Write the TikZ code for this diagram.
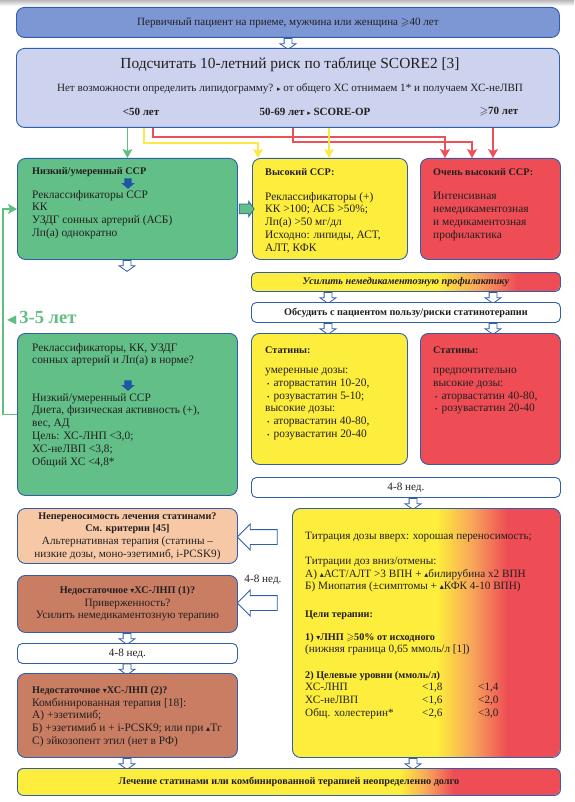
\documentclass[tikz,border=0pt]{standalone}
\usepackage{fontspec}
\setmainfont{Liberation Serif}
\newfontfamily\symf{DejaVu Sans}
\usepackage{amssymb}
\usepackage{tikz}
\usetikzlibrary{arrows.meta}
\usetikzlibrary{positioning}
\usetikzlibrary{shapes.arrows}
\usetikzlibrary{calc}
\usepackage{xcolor}

\definecolor{bordblue}{RGB}{47,94,170}
\definecolor{topblue}{RGB}{125,150,212}
\definecolor{lavblue}{RGB}{205,211,238}
\definecolor{grnbox}{RGB}{98,191,135}
\definecolor{yelbox}{RGB}{253,237,60}
\definecolor{redbox}{RGB}{238,77,85}
\definecolor{orgbox}{RGB}{247,165,90}
\definecolor{peachbox}{RGB}{246,200,166}
\definecolor{brownbox}{RGB}{201,125,99}
\definecolor{darkarr}{RGB}{30,85,165}
\definecolor{grnline}{RGB}{96,190,128}
\definecolor{yelline}{RGB}{250,232,70}
\definecolor{redline}{RGB}{238,80,88}
\definecolor{inktext}{RGB}{35,31,32}

\newcommand{\smallf}{\fontsize{11.1}{12.5}\selectfont}
\newcommand{\headf}{\fontsize{10.2}{12.8}\selectfont\bfseries}
\newcommand{\bodyf}{\fontsize{11.4}{12.8}\selectfont}
\newcommand{\bodys}{\fontsize{11.2}{12.7}\selectfont}
\newcommand{\trrt}{{\symf\fontsize{7}{7}\selectfont ▸}}
\newcommand{\trdn}{{\symf\fontsize{8}{8}\selectfont ▾}}
\newcommand{\trup}{{\symf\fontsize{8}{8}\selectfont ▴}}
\newcommand{\bul}{\hspace*{2pt}{\fontsize{7}{7}\selectfont•}\hspace{4pt}}
% yellow-orange-red background: x1,y1,x2,y2, end of yellow, orange, start of red, corner
\newcommand{\ryfill}[8]{%
	\begin{scope}
		\clip[rounded corners=#8] (#1,#2) rectangle (#3,#4);
		\fill[yelbox] (#1,#2) rectangle (#5+0.4,#4);
		\shade[left color=yelbox, right color=orgbox] (#5,#2) rectangle (#6+0.4,#4);
		\shade[left color=orgbox, right color=redbox] (#6,#2) rectangle (#7+0.4,#4);
		\fill[redbox] (#7,#2) rectangle (#3,#4);
	\end{scope}}

\begin{document}
\begin{tikzpicture}[x=1pt,y=-1pt,
		box/.style={draw=bordblue, line width=0.9pt, rounded corners=8pt, inner sep=0pt,
			anchor=north west, text=inktext, align=center, font=\bodyf},
		txt/.style={text=inktext, inner sep=0pt, anchor=north west, align=left, font=\bodyf,
			execute at begin node=\strut},
		hollow/.style={single arrow, draw=bordblue, fill=white, line width=0.8pt, inner sep=3.5pt,
			single arrow head extend=4pt, single arrow tip angle=110, minimum height=11pt,
			shape border rotate=270},
		hollowleft/.style={hollow, shape border rotate=180, inner sep=7pt,
			single arrow head extend=5.5pt, single arrow tip angle=90, minimum height=40pt},
		darkdown/.style={single arrow, fill=darkarr, inner sep=3.5pt, single arrow head extend=3pt,
			single arrow tip angle=100, minimum height=10pt, shape border rotate=270},
		grnarrow/.style={single arrow, fill=grnbox, draw=bordblue, line width=0.7pt, inner sep=4.5pt,
			single arrow head extend=3pt, single arrow tip angle=110, minimum height=15pt},
		tip/.style={-{Stealth[length=9pt,width=10pt,inset=2pt]}},
		gline/.style={tip, draw=grnline, line width=1.2pt},
		yline/.style={tip, draw=yelline, line width=1.2pt},
		rline/.style={tip, draw=redline, line width=1.2pt}]
	\useasboundingbox (0,0) rectangle (574,802);
	\shade[top color=gray!55, bottom color=white] (0,0) rectangle (574,6);

	\node[box, fill=topblue, minimum width=543pt, minimum height=30pt, font=\smallf] (first) at (16,7)
		{Первичный пациент на приеме, мужчина или женщина $\geqslant$40 лет};
	\node[hollow] (h1) at (288,42.5) {};
	\node[box, fill=lavblue, minimum width=543pt, minimum height=79pt] (score) at (16,48) {};
	\node[text=inktext, font=\fontsize{15.4}{17}\selectfont] (scoretitle) at (290,65)
		{Подсчитать 10-летний риск по таблице SCORE2 [3]};
	\node[text=inktext, font=\smallf] (scorenote) at (290,89)
		{Нет возможности определить липидограмму? \trrt{} от общего ХС отнимаем 1* и получаем ХС-неЛВП};
	\node[text=inktext, font=\fontsize{11}{12}\selectfont\bfseries] (age1) at (141,112) {<50 лет};
	\node[text=inktext, font=\fontsize{11}{12}\selectfont\bfseries] (age2) at (315,112) {50-69 лет \trrt{} SCORE-OP};
	\node[text=inktext, font=\fontsize{11}{12}\selectfont\bfseries] (age3) at (499,112) {$\geqslant$70 лет};

	% risk groups
	\node[box, fill=grnbox, minimum width=220pt, minimum height=101pt] (low) at (17,158) {};
	\node[box, fill=yelbox, minimum width=155pt, minimum height=101pt] (high) at (252,158) {};
	\node[box, fill=redbox, minimum width=140pt, minimum height=101pt] (vhigh) at (420,158) {};

	\draw[gline] (score.south -| low.north) -- (low.north);
	\draw[yline] ([xshift=128pt]score.south west) |- ([xshift=6pt,yshift=15pt]high.north west) -- ([xshift=6pt]high.north west);
	\draw[rline] ([xshift=137pt]score.south west) |- ([xshift=25pt,yshift=21pt]vhigh.north west) -- ([xshift=25pt]vhigh.north west);
	\draw[rline] ([xshift=277pt]score.south west) |- ([xshift=52pt,yshift=16pt]vhigh.north west) -- ([xshift=52pt]vhigh.north west);
	\draw[yline] ([xshift=313pt]score.south west) -- ([xshift=77pt]high.north west);
	\draw[rline] ([xshift=477pt]score.south west) -- ([xshift=73pt]vhigh.north west);

	\node[txt, font=\headf] (lowhead) at (32,165) {Низкий/умеренный ССР};
	\node[darkdown] (lowdown) at (128,182) {};
	\node[txt] (lowtext) at (32,190) {Реклассификаторы ССР\\КК\\УЗДГ сонных артерий (АСБ)\\Лп(а) однократно};
	\node[txt, font=\headf] (highhead) at (265,166) {Высокий ССР:};
	\node[txt] (hightext) at (265,192) {Реклассификаторы (+)\\КК >100; АСБ >50\%;\\Лп(а) >50 мг/дл\\Исходно: липиды, АСТ,\\АЛТ, КФК};
	\node[txt, font=\headf] (vhighhead) at (433,166) {Очень высокий ССР:};
	\node[txt] (vhightext) at (433,192) {Интенсивная\\немедикаментозная\\и медикаментозная\\профилактика};
	\node[grnarrow] (lowhigh) at ($(low.east)!0.5!(high.west)$) {};
	\node[hollow] (h2) at (127,264.5) {};

	% statins
	\ryfill{251}{272}{560}{291}{437}{478}{517}{5pt}
	\node[box, rounded corners=5pt, minimum width=309pt, minimum height=19pt, font=\headf\itshape] (boost) at (251,272)
		{Усилить немедикаментозную профилактику};
	\node[hollow] (h3) at (328,296.5) {};
	\node[hollow] (h4) at (493,296.5) {};
	\node[box, fill=white, rounded corners=5pt, minimum width=309pt, minimum height=20pt, font=\headf] (discuss) at (251,302)
		{Обсудить с пациентом пользу/риски статинотерапии};
	\node[hollow] (h5) at (328,327.5) {};
	\node[hollow] (h6) at (493,327.5) {};
	\node[box, fill=yelbox, minimum width=156pt, minimum height=131pt] (statmod) at (251,333) {};
	\node[box, fill=redbox, minimum width=140pt, minimum height=131pt] (stathigh) at (420,333) {};
	\node[txt, font=\headf] (statmodhead) at (265,344) {Статины:};
	\node[txt] (statmodtext) at (265,368) {умеренные дозы:\\\bul аторвастатин 10-20,\\\bul розувастатин 5-10;\\высокие дозы:\\\bul аторвастатин 40-80,\\\bul розувастатин 20-40};
	\node[txt, font=\headf] (stathighhead) at (433,344) {Статины:};
	\node[txt] (stathightext) at (433,368) {предпочтительно\\высокие дозы:\\\bul аторвастатин 40-80,\\\bul розувастатин 20-40};

	\node[text=grnline, font=\fontsize{18.5}{18}\selectfont\bfseries, inner sep=0pt, anchor=west] (period) at (7,318)
		{{\symf\fontsize{12}{12}\selectfont ◀}\hspace{3pt}3-5 лет};
	\node[box, fill=grnbox, minimum width=220pt, minimum height=162pt] (norm) at (17,333) {};
	\node[txt] (normtext) at (32,343) {Реклассификаторы, КК, УЗДГ\\сонных артерий и Лп(а) в норме?};
	\node[darkdown] (normdown) at (128,384) {};
	\node[txt] (normgoal) at (32,393) {Низкий/умеренный ССР\\Диета, физическая активность (+),\\вес, АД\\Цель: ХС-ЛНП <3,0;\\ХС-неЛВП <3,8;\\Общий ХС <4,8*};
	\draw[gline] (norm.west) -- ++(-14,0) |- (low.west);

	% titration
	\node[box, fill=white, rounded corners=5pt, minimum width=309pt, minimum height=20pt, font=\bodys] (wait1) at (251,477) {4-8 нед.};
	\node[hollow] (h7) at (413,502.5) {};
	\ryfill{292}{508}{560}{757}{437}{472}{507}{8pt}
	\node[box, minimum width=268pt, minimum height=249pt] (titr) at (292,508) {};
	\node[txt, font=\bodys] (titrup) at (305,530) {Титрация дозы вверх: хорошая переносимость;};
	\node[txt, font=\bodys] (titrdown) at (305,557) {Титрации доз вниз/отмены:\\А) \trup АСТ/АЛТ >3 ВПН + \trup билирубина х2 ВПН\\Б) Миопатия (±симптомы + \trup КФК 4-10 ВПН)};
	\node[txt, font=\headf] (goalhead) at (305,608) {Цели терапии:};
	\node[txt, font=\bodys] (goalone) at (305,633) {{\headf 1) \trdn ЛНП $\geqslant$50\% от исходного}\\(нижняя граница 0,65 ммоль/л [1])};
	\node[txt, font=\bodys] (goaltwo) at (305,671) {{\headf 2) Целевые уровни (ммоль/л)}\\
		\makebox[117pt][l]{ХС-ЛНП}\makebox[56pt][l]{<1,8}<1,4\\
		\makebox[117pt][l]{ХС-неЛВП}\makebox[56pt][l]{<1,6}<2,0\\
		\makebox[117pt][l]{Общ. холестерин*}\makebox[56pt][l]{<2,6}<3,0};

	\node[box, fill=peachbox, minimum width=220pt, minimum height=55pt, font=\bodys] (intol) at (17,508)
		{{\headf Непереносимость лечения статинами?}\\{\headf См. критерии [45]}\\Альтернативная терапия (статины –\\низкие дозы, моно-эзетимиб, i-PCSK9)};
	\node[hollowleft] (hl1) at (261,537) {};
	\node[text=inktext, font=\bodys] (waitlbl) at (263,580) {4-8 нед.};
	\node[hollowleft] (hl2) at (261,603) {};
	\node[box, fill=brownbox, minimum width=220pt, minimum height=57pt, font=\bodys] (insuf1) at (17,575)
		{{\headf Недостаточное \trdn ХС-ЛНП (1)?}\\Приверженность?\\Усилить немедикаментозную терапию};
	\node[hollow] (h8) at (127,637.5) {};
	\node[box, fill=white, rounded corners=5pt, minimum width=220pt, minimum height=20pt, font=\bodys] (wait2) at (17,643) {4-8 нед.};
	\node[hollow] (h9) at (127,668) {};
	\node[box, fill=brownbox, minimum width=220pt, minimum height=84pt] (insuf2) at (17,673) {};
	\node[txt] (insuftext) at (32,686) {{\headf Недостаточное \trdn ХС-ЛНП (2)?}\\Комбинированная терапия [18]:\\А) +эзетимиб;\\Б) +эзетимиб и + i-PCSK9; или при \trup Тг\\С) эйкозопент этил (нет в РФ)};
	\node[hollow] (h10) at (127,762.5) {};
	\node[hollow] (h11) at (413,762.5) {};
	\ryfill{17}{768}{560}{795}{400}{427}{453}{6pt}
	\node[box, rounded corners=6pt, minimum width=543pt, minimum height=27pt, font=\headf] (final) at (17,768)
		{Лечение статинами или комбинированной терапией неопределенно долго};
\end{tikzpicture}
\end{document}
